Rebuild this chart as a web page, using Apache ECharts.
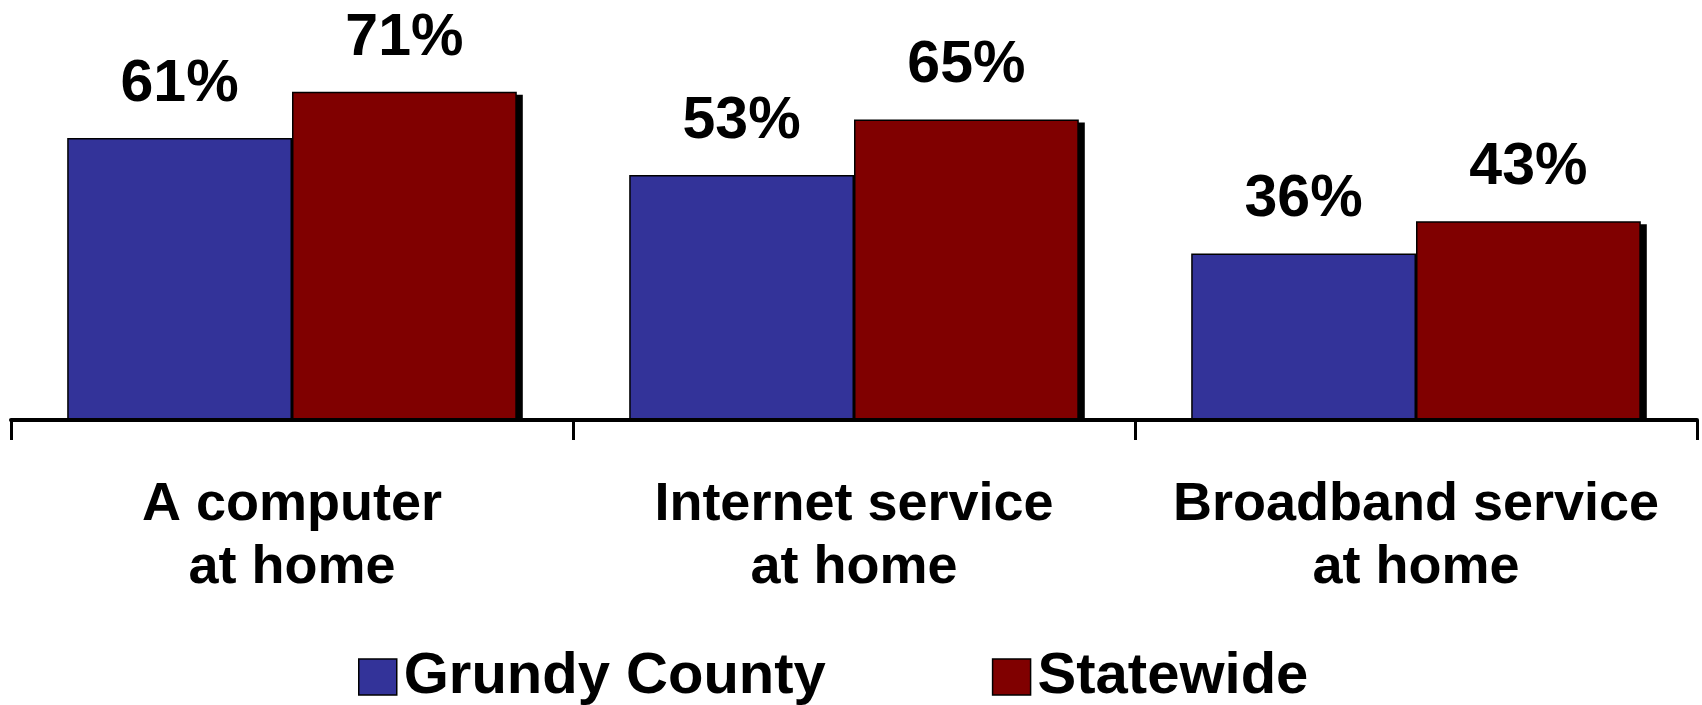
<!DOCTYPE html>
<html>
<head>
<meta charset="utf-8">
<script src="https://cdn.jsdelivr.net/npm/echarts@6/dist/echarts.min.js"></script>
<style>
html,body{margin:0;padding:0;background:#fff;}
#chart{width:1702px;height:705px;}
</style>
</head>
<body>
<div id="chart"></div>
<script>
const categories = ['A computer\nat home', 'Internet service\nat home', 'Broadband service\nat home'];
const seriesNames = ['Grundy County', 'Statewide'];
const grundyValues = [61, 53, 36];
const statewideValues = [71, 65, 43];

const FONT = '"Liberation Sans", Arial, sans-serif';
const chart = echarts.init(document.getElementById('chart'));

const BAR_FRACTION = 0.8; // barCategoryGap 20%
const SHADOW_DX = 6, SHADOW_DY = 3;

function barSeries(name, data, color) {
  return {
    name: name,
    type: 'bar',
    data: data,
    z: 3,
    barGap: '0%',
    barCategoryGap: '20%',
    itemStyle: {
      color: color,
      borderColor: '#000',
      borderWidth: 1.5
    },
    label: {
      show: true,
      position: 'top',
      distance: 24,
      formatter: '{c}%',
      color: '#000',
      fontFamily: FONT,
      fontWeight: 'bold',
      fontSize: 59,
      lineHeight: 59
    }
  };
}

const shadowData = categories.map((c, i) => [i, grundyValues[i], statewideValues[i]]);

const shadowSeries = {
  name: 'shadow',
  type: 'custom',
  z: 1,
  silent: true,
  data: shadowData,
  encode: { x: 0, y: [1, 2] },
  renderItem: function (params, api) {
    const i = api.value(0);
    const base = api.coord([i, 0]);
    const band = api.size([1, 0])[0];
    const barW = band * BAR_FRACTION / 2;
    const children = [];
    [1, 2].forEach(function (dim, k) {
      const top = api.coord([i, api.value(dim)])[1];
      const x0 = base[0] - barW + k * barW;
      children.push({
        type: 'rect',
        shape: { x: x0 + SHADOW_DX, y: top + SHADOW_DY, width: barW, height: base[1] - top - SHADOW_DY },
        style: { fill: '#000' }
      });
    });
    return { type: 'group', children: children };
  }
};

chart.setOption({
  animation: false,
  backgroundColor: '#fff',
  grid: { left: 11, right: 5, top: 4, bottom: 285, containLabel: false },
  legend: {
    data: seriesNames,
    left: 353,
    top: 643,
    itemWidth: 38,
    itemHeight: 36,
    itemGap: 166,
    icon: 'rect',
    textStyle: {
      color: '#000',
      fontFamily: FONT,
      fontWeight: 'bold',
      fontSize: 58,
      padding: [0, 0, 0, 2]
    },
    itemStyle: { borderColor: '#000', borderWidth: 1.5 }
  },
  xAxis: {
    type: 'category',
    data: categories,
    z: 5,
    axisLine: { show: true, lineStyle: { color: '#000', width: 4 } },
    axisTick: { show: true, length: 20, lineStyle: { color: '#000', width: 3 } },
    axisLabel: {
      color: '#000',
      fontFamily: FONT,
      fontWeight: 'bold',
      fontSize: 54,
      lineHeight: 63,
      margin: 54,
      interval: 0
    }
  },
  yAxis: {
    type: 'value',
    min: 0,
    max: 90,
    show: false,
    splitLine: { show: false }
  },
  series: [
    shadowSeries,
    barSeries(seriesNames[0], grundyValues, '#333399'),
    barSeries(seriesNames[1], statewideValues, '#800000')
  ]
});
</script>
</body>
</html>
